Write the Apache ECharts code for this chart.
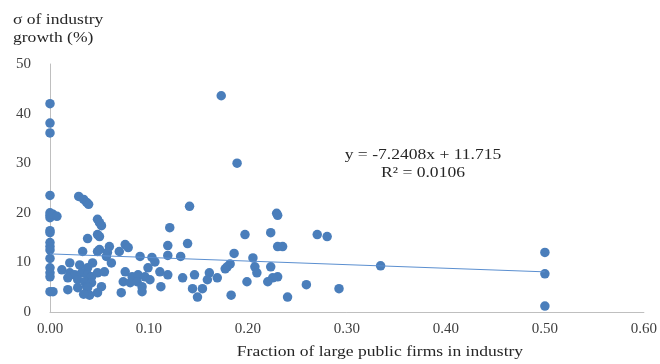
<!DOCTYPE html>
<html><head><meta charset="utf-8">
<script src="https://cdn.jsdelivr.net/npm/echarts@6/dist/echarts.min.js"></script>
<style>html,body{margin:0;padding:0;background:#fff}#c{width:660px;height:364px}</style>
</head><body><div id="c"></div>
<script>
// Fraction of large public firms (x) and sigma of industry growth (y)
const fractionX = [
  0,0,0,0,0,0,0,0,0,0,0,0,0,0,0,0,0,0.003,0.007,0.003,
  0.029,0.034,0.037,0.039,0.048,0.050,0.052,0.038,0.048,0.050,
  0.050,0.060,0.076,0.079,0.070,0.033,0.048,0.058,0.091,0.103,
  0.106,0.057,0.062,0.121,0.119,0.119,0.132,0.141,0.139,0.020,
  0.012,0.030,0.043,0.038,0.020,0.025,0.032,0.038,0.042,0.048,
  0.055,0.018,0.028,0.035,0.042,0.037,0.018,0.028,0.038,0.052,
  0.048,0.072,0.093,0.076,0.083,0.089,0.096,0.074,0.081,0.088,
  0.093,0.099,0.101,0.111,0.112,0.119,0.134,0.146,0.144,0.149,
  0.154,0.161,0.159,0.169,0.189,0.173,0.229,0.230,0.197,0.223,
  0.230,0.235,0.186,0.205,0.182,0.179,0.177,0.207,0.209,0.223,
  0.230,0.225,0.220,0.199,0.259,0.240,0.183,0.270,0.280,0.334,
  0.292,0.500,0.500,0.500,0.040,0.034
];
const sigmaY = [
  42.0,38.1,36.1,23.5,20.0,19.5,19.0,16.4,16.0,14.0,13.2,12.5,10.8,8.9,7.9,7.1,4.1,19.7,19.3,4.1,
  23.3,22.7,22.1,21.7,18.7,18.0,17.4,14.8,15.6,15.2,
  12.6,13.2,13.6,13.0,12.2,12.2,12.2,12.0,11.2,11.0,
  10.1,11.2,9.9,17.0,13.4,11.4,11.2,21.3,13.8,9.9,
  8.5,9.5,9.9,8.9,7.9,7.5,7.9,7.5,7.1,7.9,
  8.1,6.9,6.5,6.1,5.9,5.1,4.5,4.9,4.9,5.1,
  3.9,3.9,4.1,8.1,7.1,7.5,7.1,6.1,5.9,6.1,
  5.1,8.9,6.5,8.1,5.1,7.5,6.9,7.5,4.7,3.0,
  4.7,7.9,6.5,6.9,30.0,43.6,19.9,19.5,15.6,16.0,
  13.2,13.2,11.8,10.9,9.7,9.1,8.7,9.1,7.9,9.1,
  7.1,6.9,6.1,6.1,5.5,3.0,3.4,15.6,15.2,9.3,
  4.7,12.0,7.7,1.2,3.4,3.6
];
const xTicks = ['0.00','0.10','0.20','0.30','0.40','0.50','0.60'];
const yTicks = [0,10,20,30,40,50];
const trendSlope = -7.2408;
const trendIntercept = 11.715;
const trendRange = [0, 0.5];

const points = fractionX.map((x, i) => [x, sigmaY[i]]);
const trend = trendRange.map(x => [x, trendIntercept + trendSlope * x]);
const serif = '"Liberation Serif", "DejaVu Serif", serif';
const textColor = '#262626';
const stretch = 1.17;

const chart = echarts.init(document.getElementById('c'), null, {renderer: 'canvas'});
chart.setOption({
  animation: false,
  backgroundColor: '#fff',
  grid: {left: 50, right: 13, top: 64, bottom: 52, containLabel: false},
  xAxis: {
    type: 'value', min: 0, max: 0.6, interval: 0.1,
    axisLine: {show: true, lineStyle: {color: '#bfbfbf', width: 1}},
    axisTick: {show: false}, splitLine: {show: false},
    axisLabel: {fontFamily: serif, fontSize: 15, color: '#404040', margin: 10,
      formatter: v => xTicks[Math.round(v * 10)]}
  },
  yAxis: {
    type: 'value', min: 0, max: 50, interval: 10,
    axisLine: {show: true, lineStyle: {color: '#bfbfbf', width: 1}},
    axisTick: {show: false}, splitLine: {show: false},
    axisLabel: {fontFamily: serif, fontSize: 15, color: '#404040', margin: 19,
      formatter: v => String(yTicks[Math.round(v / 10)])}
  },
  series: [
    {type: 'scatter', data: points, symbolSize: 9.5,
      itemStyle: {color: '#4a7ebb', opacity: 1}, z: 3},
    {type: 'line', data: trend, symbol: 'none',
      lineStyle: {color: '#5b8fd0', width: 1}, z: 4}
  ],
  graphic: [
    {type: 'text', x: 13, y: 20, scaleX: stretch, style: {text: 'σ of industry', fontFamily: serif, fontSize: 15, fill: textColor, verticalAlign: 'middle'}},
    {type: 'text', x: 13, y: 38, scaleX: stretch, style: {text: 'growth (%)', fontFamily: serif, fontSize: 15, fill: textColor, verticalAlign: 'middle'}},
    {type: 'text', x: 423, y: 155, scaleX: stretch, style: {text: 'y = -7.2408x + 11.715', fontFamily: serif, fontSize: 15, fill: textColor, align: 'center', verticalAlign: 'middle'}},
    {type: 'text', x: 423, y: 173, scaleX: stretch, style: {text: 'R² = 0.0106', fontFamily: serif, fontSize: 15, fill: textColor, align: 'center', verticalAlign: 'middle'}},
    {type: 'text', x: 380, y: 352, scaleX: stretch, style: {text: 'Fraction of large public firms in industry', fontFamily: serif, fontSize: 15, fill: textColor, align: 'center', verticalAlign: 'middle'}}
  ]
});
</script></body></html>
